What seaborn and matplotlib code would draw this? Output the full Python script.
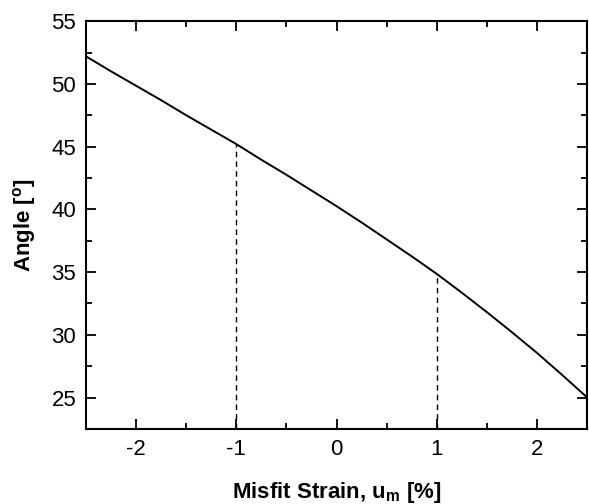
import numpy as np
import pandas as pd
import matplotlib
matplotlib.use("Agg")
import matplotlib.pyplot as plt
from matplotlib.ticker import MultipleLocator
import seaborn as sns

# Values
strain = [-2.5, -2.25, -2.0, -1.75, -1.5, -1.25, -1.0, -0.75, -0.5, -0.25, 0.0,
          0.25, 0.5, 0.75, 1.0, 1.25, 1.5, 1.75, 2.0, 2.25, 2.5]
angle = [52.2, 51.0, 49.85, 48.7, 47.5, 46.35, 45.2, 43.95, 42.75, 41.5, 40.25,
         38.95, 37.6, 36.25, 34.85, 33.35, 31.8, 30.2, 28.55, 26.8, 25.0]
marked_strain = [-1.0, 1.0]

df = pd.DataFrame({"strain": strain, "angle": angle})

sns.set_theme(style="ticks")
plt.rcParams["font.family"] = ["Liberation Sans", "DejaVu Sans"]
plt.rcParams["axes.unicode_minus"] = False

fig, ax = plt.subplots(figsize=(5.89, 5.04), dpi=100)
fig.subplots_adjust(left=0.146, right=0.997, top=0.958, bottom=0.149)

sns.lineplot(data=df, x="strain", y="angle", color="black", linewidth=1.4, ax=ax)

# dashed drop lines from the x axis up to the curve
ymin = 22.5
for xm in marked_strain:
    ym = np.interp(xm, strain, angle)
    ax.plot([xm, xm], [ymin, ym], color="black", linestyle=(0, (4, 3)), linewidth=1.0)

ax.set_xlim(-2.5, 2.5)
ax.set_ylim(ymin, 55)
ax.xaxis.set_major_locator(MultipleLocator(1))
ax.xaxis.set_minor_locator(MultipleLocator(0.5))
ax.yaxis.set_major_locator(MultipleLocator(5))
ax.yaxis.set_minor_locator(MultipleLocator(2.5))

ax.tick_params(which="both", direction="in", top=True, right=True,
               labelsize=16, colors="black", width=1.3)
ax.tick_params(which="major", length=7, pad=7)
ax.tick_params(which="minor", length=4)
for s in ax.spines.values():
    s.set_linewidth(1.5)
    s.set_color("black")

ax.set_xlabel("Misfit Strain, u$_\\mathregular{m}$ [%]", fontsize=16, fontweight="bold",
              color="black", labelpad=15)
ax.set_ylabel("Angle [$^\\mathregular{o}$]", fontsize=16, fontweight="bold",
              color="black", labelpad=10)

fig.savefig("out.png", dpi=100)
